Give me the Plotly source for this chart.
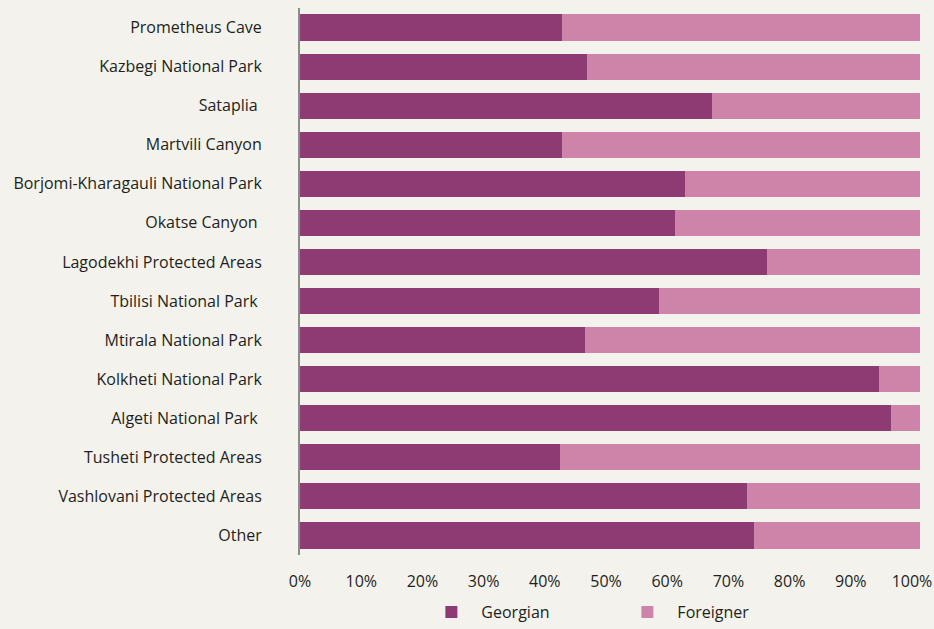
import plotly.graph_objects as go

categories = [
    "Prometheus Cave", "Kazbegi National Park", "Sataplia ", "Martvili Canyon",
    "Borjomi-Kharagauli National Park", "Okatse Canyon ", "Lagodekhi Protected Areas",
    "Tbilisi National Park ", "Mtirala National Park", "Kolkheti National Park",
    "Algeti National Park ", "Tusheti Protected Areas", "Vashlovani Protected Areas", "Other",
]
georgian = [42.3, 46.3, 66.5, 42.3, 62.1, 60.5, 75.3, 57.9, 46.0, 93.4, 95.3, 41.9, 72.1, 73.2]
foreigner = [57.7, 53.7, 33.5, 57.7, 37.9, 39.5, 24.7, 42.1, 54.0, 6.6, 4.7, 58.1, 27.9, 26.8]
x_ticks = [0, 10, 20, 30, 40, 50, 60, 70, 80, 90, 100]
x_tick_labels = [f"{v}%" for v in x_ticks]

BG = "#f4f2ed"
fig = go.Figure()
fig.add_trace(go.Bar(y=categories, x=georgian, name="Georgian", orientation="h",
                     marker=dict(color="#8e3b73", line=dict(width=0))))
fig.add_trace(go.Bar(y=categories, x=foreigner, name="Foreigner", orientation="h",
                     marker=dict(color="#ce83a8", line=dict(width=0))))
# empty helper trace so the tick-label axis (x2) is drawn
fig.add_trace(go.Scatter(x=[], y=[], xaxis="x2", yaxis="y", mode="markers",
                         showlegend=False, hoverinfo="skip"))

fig.update_layout(
    barmode="stack",
    bargap=0.33,
    width=934, height=629,
    paper_bgcolor=BG, plot_bgcolor=BG,
    margin=dict(l=300, r=13, t=8, b=74, autoexpand=False),
    font=dict(family="Open Sans, Lato, sans-serif", size=16, color="#231f20"),
    xaxis=dict(range=[0, 100.2], showticklabels=False,
               showgrid=False, zeroline=False, showline=False, ticks="",
               automargin=False),
    # tick-label axis: the reference's percentage labels sit on a slightly
    # compressed scale relative to the bars
    xaxis2=dict(overlaying="x", anchor="y", side="bottom", range=[-0.01, 101.47],
                tickvals=x_ticks, ticktext=x_tick_labels,
                showgrid=False, zeroline=False, showline=False, ticks="",
                automargin=False, ticklabelstandoff=15, ticklabeloverflow="allow",
                tickfont=dict(size=16)),
    yaxis=dict(autorange="reversed", showgrid=False, zeroline=False,
               showline=True, linecolor="#8c8c8c", linewidth=2, ticks="",
               automargin=False, ticklabelstandoff=33, tickfont=dict(size=16)),
    legend=dict(orientation="h", xref="container", x=0.661, xanchor="center",
                yref="container", y=0.027, yanchor="middle",
                itemwidth=50, entrywidth=131, font=dict(size=16),
                bgcolor="rgba(0,0,0,0)", traceorder="normal"),
    showlegend=True,
)

fig.write_html("out.html", config={"displayModeBar": False},
               post_script="document.body.style.margin='0';document.body.style.padding='0';")
